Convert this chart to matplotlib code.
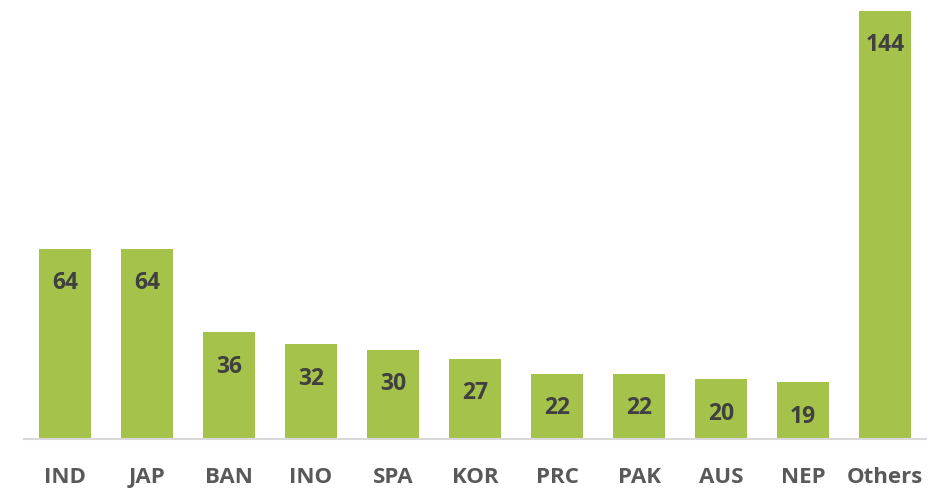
import matplotlib
matplotlib.use("Agg")
import matplotlib.pyplot as plt

categories = ["IND", "JAP", "BAN", "INO", "SPA", "KOR", "PRC", "PAK", "AUS", "NEP", "Others"]
values = [64, 64, 36, 32, 30, 27, 22, 22, 20, 19, 144]

BAR_COLOR = "#A5C34A"
LABEL_COLOR = "#404040"
TICK_COLOR = "#595959"

plt.rcParams["font.family"] = ["Open Sans", "DejaVu Sans"]

fig = plt.figure(figsize=(9.48, 4.88), dpi=100)
ax = fig.add_axes([24 / 948, 49 / 488, 902 / 948, 432 / 488])

x = range(len(categories))
bars = ax.bar(x, values, width=0.634, color=BAR_COLOR, zorder=2)

# value labels sit inside the top of each bar
for rect, v in zip(bars, values):
    ax.annotate(f"{v}", xy=(rect.get_x() + rect.get_width() / 2, v),
                xytext=(0, -25), textcoords="offset points",
                ha="center", va="center", fontsize=16.5, fontweight="bold",
                color=LABEL_COLOR)

ax.set_xlim(-0.5, len(categories) - 0.5)
ax.set_ylim(0, 145.2)
ax.set_xticks(list(x))
ax.set_xticklabels(categories, fontsize=16, fontweight="bold", color=TICK_COLOR)
ax.tick_params(axis="x", length=0, pad=20)
ax.set_yticks([])

for s in ["top", "right", "left"]:
    ax.spines[s].set_visible(False)
ax.spines["bottom"].set_color("#D9D9D9")
ax.spines["bottom"].set_linewidth(1.5)

fig.savefig("out.png", dpi=100)
